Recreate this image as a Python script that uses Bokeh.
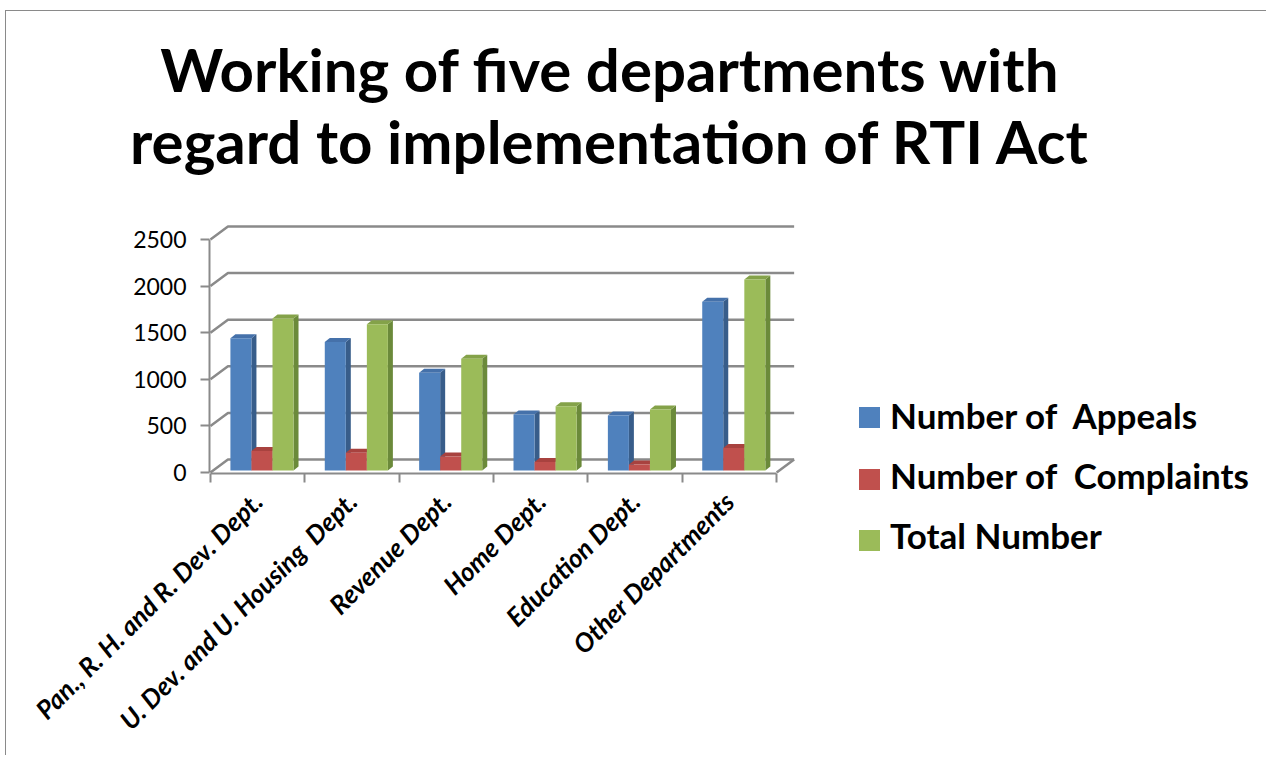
import math
from bokeh.plotting import figure
from bokeh.layouts import column, row
from bokeh.models import Range1d, FixedTicker, Div
from bokeh.core.properties import value
from bokeh.embed import file_html
from bokeh.resources import INLINE

# ---------------- data ----------------
departments = ["Pan., R. H. and R. Dev. Dept.", "U. Dev. and U. Housing\u00a0 Dept.",
               "Revenue Dept.", "Home Dept.", "Education Dept.", "Other Departments"]
series_names = ["Number of  Appeals", "Number of  Complaints", "Total Number"]
appeals = [1420, 1380, 1050, 600, 590, 1810]
complaints = [210, 190, 150, 90, 65, 240]
total = [1630, 1570, 1200, 690, 655, 2050]
y_ticks = [0, 500, 1000, 1500, 2000, 2500]
title_lines = ["Working of five departments with", "regard to implementation of RTI Act"]

# ---------------- styling / geometry ----------------
front_cols = ["#4F81BD", "#C0504D", "#9BBB59"]
side_cols = ["#385D8A", "#8C3A37", "#6B8A3A"]
top_cols = ["#4571AA", "#A8423F", "#84A249"]
grid_col = "#8A8A8A"
FONT = "Lato"

OX, OY = 6, 11          # page offset of layout content (margin + border)
TITLE_H = 180
BODY_H = 564
P_W = 840
LEG_W = 420

PXX = 94.3      # px per category unit
PXY = 0.0932    # px per value unit
DX = 17.5 / PXX
DY = 13 / PXY
BDX = 5 / PXX
BDY = 4 / PXY
BASE = 2 / PXY
BW = 21 / PXX
offsets = [0.323, 0.546, 0.769]
n = len(departments)

# ---------------- title ----------------
tf = figure(width=P_W + LEG_W, height=TITLE_H, output_backend="svg", toolbar_location=None,
            x_range=Range1d(OX, OX + P_W + LEG_W), y_range=Range1d(OY + TITLE_H, OY),
            x_axis_type=None, y_axis_type=None, min_border=0, min_border_left=0,
            min_border_right=0, min_border_top=0, min_border_bottom=0)
tf.outline_line_color = None
tf.xgrid.visible = False
tf.ygrid.visible = False
TFS = 60
tf.text(x=[610, 610], y=[90 - 0.357 * TFS, 162 - 0.357 * TFS], text=title_lines,
        text_align="center", text_baseline="alphabetic", text_font=value(FONT),
        text_font_style="bold", text_font_size=f"{TFS}px", text_color="black")

# ---------------- main chart ----------------
frame_left, frame_right, frame_top, frame_bottom = 209, 795, 220, 473
p = figure(width=P_W, height=BODY_H, output_backend="svg", toolbar_location=None,
           x_range=Range1d(-0.01, 6.2), y_range=Range1d(-11, 2704),
           min_border_left=frame_left - OX,
           min_border_right=P_W - (frame_right - OX),
           min_border_top=frame_top - (OY + TITLE_H),
           min_border_bottom=(OY + TITLE_H + BODY_H) - frame_bottom)
p.outline_line_color = None
p.xgrid.visible = False
p.ygrid.visible = False
p.background_fill_color = "white"
p.border_fill_color = "white"

# left wall, back wall gridlines and floor edge
gx, gy = [], []
for v in y_ticks:
    gx.append([0, DX, n + DX])
    gy.append([v, v + DY, v + DY])
gx.append([n, n + DX])
gy.append([0, DY])
p.multi_line(gx, gy, line_color=grid_col, line_width=2.5)

# 3-D style columns: side face, top face, front face
for k, vals in enumerate([appeals, complaints, total]):
    xs_c = [i + offsets[k] for i in range(n)]
    side_xs, side_ys, top_xs, top_ys = [], [], [], []
    for xc, v in zip(xs_c, vals):
        xl, xr = xc - BW / 2, xc + BW / 2
        t = v + BASE
        side_xs.append([xr, xr + BDX, xr + BDX, xr])
        side_ys.append([BASE, BASE + BDY, t + BDY, t])
        top_xs.append([xl, xr, xr + BDX, xl + BDX])
        top_ys.append([t, t, t + BDY, t + BDY])
    p.patches(side_xs, side_ys, fill_color=side_cols[k], line_color=None)
    p.patches(top_xs, top_ys, fill_color=top_cols[k], line_color=None)
    p.vbar(x=xs_c, width=BW, bottom=BASE, top=[v + BASE for v in vals],
           fill_color=front_cols[k], line_color=None)

ya = p.yaxis[0]
ya.ticker = FixedTicker(ticks=y_ticks)
ya.bounds = (0, 2500)
ya.axis_line_color = grid_col
ya.axis_line_width = 2
ya.major_tick_line_color = grid_col
ya.major_tick_line_width = 2
ya.major_tick_out = 9
ya.major_tick_in = 0
ya.minor_tick_line_color = None
ya.major_label_standoff = 14
ya.major_label_text_font = FONT
ya.major_label_text_font_size = "23px"
ya.major_label_text_color = "black"

xa = p.xaxis[0]
centers = [i + 0.5 for i in range(n)]
xa.ticker = FixedTicker(ticks=centers, minor_ticks=list(range(n + 1)))
xa.bounds = (0, n)
xa.major_label_overrides = {c: d for c, d in zip(centers, departments)}
xa.axis_line_color = grid_col
xa.axis_line_width = 2
xa.major_tick_line_color = None
xa.major_tick_out = 0
xa.minor_tick_line_color = grid_col
xa.minor_tick_line_width = 2
xa.minor_tick_out = 9
xa.minor_tick_in = 0
xa.major_label_orientation = math.pi / 4
xa.major_label_standoff = 14
xa.major_label_text_font = FONT
xa.major_label_text_font_style = "bold italic"
xa.major_label_text_font_size = "26px"
xa.major_label_text_color = "black"

# ---------------- legend panel (HTML) ----------------
LX0, LY0 = OX + P_W, OY + TITLE_H
sq_top = [407, 469, 530]
txt_base = [429, 489, 549]
LFS = 35
items = []
for name, col, st, tb in zip(series_names, front_cols, sq_top, txt_base):
    items.append(
        f'<div style="position:absolute;left:{859 - LX0}px;top:{st - LY0}px;'
        f'width:21px;height:21px;background:{col};"></div>'
        f'<div style="position:absolute;left:{890 - LX0}px;top:{tb - LY0 - 31}px;'
        f'height:{LFS}px;line-height:{LFS}px;white-space:pre;font-family:{FONT};'
        f'font-weight:bold;font-size:{LFS}px;color:black;">{name}</div>')
leg_html = (f'<div style="position:relative;width:{LEG_W}px;height:{BODY_H}px;margin:0;padding:0;">'
            + "".join(items) + '</div>')
lf = Div(text=leg_html, width=LEG_W, height=BODY_H, styles={"margin": "0", "padding": "0"})

root = column(tf, row(p, lf))
root.styles = {"margin-left": "5px", "margin-top": "10px",
               "border-left": "1px solid #8a8a8a", "border-top": "1px solid #8a8a8a"}

open("out.html", "w").write(file_html(root, INLINE))
